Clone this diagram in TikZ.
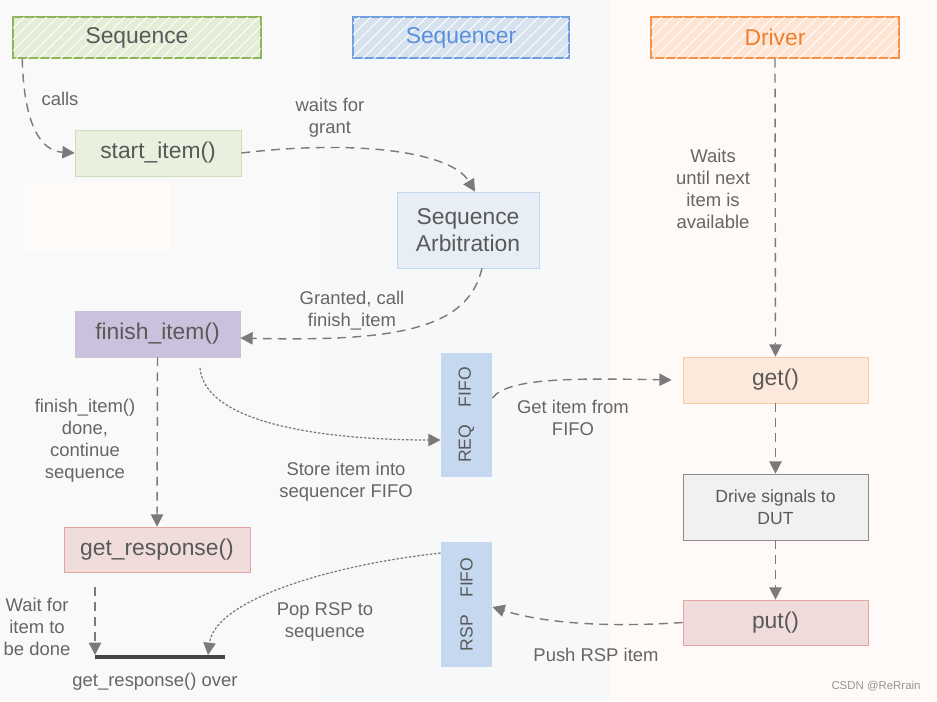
\documentclass[tikz,border=0pt]{standalone}
\usepackage{fontspec}
\setmainfont{Liberation Sans}
\usetikzlibrary{arrows.meta,patterns.meta}

\definecolor{lanegray}{HTML}{F9F9F9}
\definecolor{laneblue}{HTML}{F7F8FA}
\definecolor{laneorange}{HTML}{FFFAF7}
\definecolor{blankpatch}{HTML}{FFFBF8}
\definecolor{boxtext}{HTML}{595959}
\definecolor{lbltext}{HTML}{666666}
\definecolor{arrowgray}{HTML}{7A7A7A}
\definecolor{seqline}{HTML}{8DB55A}
\definecolor{seqfill}{HTML}{E4EDD6}
\definecolor{sqrline}{HTML}{6F9FE0}
\definecolor{sqrfill}{HTML}{D7E2EF}
\definecolor{sqrtext}{HTML}{5A8FDC}
\definecolor{drvline}{HTML}{F39248}
\definecolor{drvfill}{HTML}{FDE4D3}
\definecolor{drvtext}{HTML}{F07F2C}
\definecolor{startfill}{HTML}{E9F0DD}
\definecolor{startline}{HTML}{CDE0B5}
\definecolor{arbfill}{HTML}{E8EEF6}
\definecolor{arbline}{HTML}{C3D6EC}
\definecolor{finishfill}{HTML}{CBC1DD}
\definecolor{respfill}{HTML}{F1DCDC}
\definecolor{respline}{HTML}{E3A5A3}
\definecolor{fifofill}{HTML}{C6D8F0}
\definecolor{getfill}{HTML}{FDE9DC}
\definecolor{getline}{HTML}{F9CBA5}
\definecolor{drivefill}{HTML}{F1F1F1}
\definecolor{driveline}{HTML}{8C8C8C}
\definecolor{bardark}{HTML}{444444}

\tikzset{
  box/.style={draw, inner sep=0pt, align=center, text=boxtext,
    font=\fontsize{13}{15}\selectfont},
  header/.style={box, line width=0.9pt, minimum width=4.96cm, minimum height=0.82cm,
    postaction={pattern={Lines[angle=45,distance=4.5pt,line width=0.5pt]}, pattern color=white}},
  fifo/.style={fill=fifofill, minimum width=1.02cm, minimum height=2.48cm, inner sep=0pt},
  lbl/.style={align=center, text=lbltext, font=\fontsize{10.5}{12.6}\selectfont},
  flow/.style={draw=arrowgray, line width=0.8pt, dash pattern=on 5pt off 3.5pt,
    -{Triangle[length=7pt,width=7pt]}},
  store/.style={draw=arrowgray, line width=0.7pt, dash pattern=on 1.4pt off 1pt,
    -{Triangle[length=7pt,width=7pt]}},
}

\begin{document}
\begin{tikzpicture}[x=0.02cm,y=-0.02cm]
% The lanes
\fill[lanegray] (0,0) rectangle (322,701);
\fill[laneblue] (322,0) rectangle (610,701);
\fill[laneorange] (610,0) rectangle (937,701);
\fill[blankpatch] (24,183) rectangle (170,250);
\useasboundingbox (0,0) rectangle (937,701);

% The lane headers
\node[header, draw=seqline, fill=seqfill] (seqhead) at (137,37.5) {Sequence};
\node[header, draw=sqrline, fill=sqrfill, text=sqrtext, minimum width=4.32cm] (sqrhead) at (461,37.5) {Sequencer};
\node[header, draw=drvline, fill=drvfill, text=drvtext] (drvhead) at (775,37.5) {Driver};

% The steps
\node[box, draw=startline, fill=startfill, minimum width=3.32cm, minimum height=0.92cm] (start) at (158,153) {start\_item()};
\node[box, draw=arbline, fill=arbfill, minimum width=2.84cm, minimum height=1.52cm] (arb) at (468,230) {Sequence\\Arbitration};
\node[box, draw=finishfill, fill=finishfill, minimum width=3.3cm, minimum height=0.92cm] (finish) at (157.5,334) {finish\_item()};
\node[box, draw=respline, fill=respfill, minimum width=3.72cm, minimum height=0.9cm] (getresp) at (157,549.5) {get\_response()};
\node[box, draw=getline, fill=getfill, minimum width=3.7cm, minimum height=0.92cm] (get) at (775.5,380) {get()};
\node[box, draw=driveline, fill=drivefill, minimum width=3.7cm, minimum height=1.32cm,
  font=\fontsize{10}{12.6}\selectfont] (drive) at (775.5,507) {Drive signals to\\DUT};
\node[box, draw=respline, fill=respfill, minimum width=3.7cm, minimum height=0.9cm] (put) at (775.5,622.5) {put()};

% The FIFOs
\node[fifo, label={[rotate=90, text=boxtext, font=\fontsize{10}{12}\selectfont]center:REQ\hspace{10pt}FIFO}] (req) at (466.5,415) {};
\node[fifo, minimum height=2.5cm, label={[rotate=90, text=boxtext, font=\fontsize{10}{12}\selectfont]center:RSP\hspace{10pt}FIFO}] (rsp) at (466.5,604.5) {};

% The end bar
\coordinate (barL) at (95,657);
\coordinate (barR) at (225,657);
\coordinate (waitfrom) at (95,587);
\coordinate (popend) at (208,655);
\coordinate (storefrom) at (200,368);
\draw[bardark, line width=2.3pt] (barL) -- (barR);

% The calls
\draw[flow] ([xshift=0.2cm]seqhead.south west) .. controls (24,128) and (42,151) .. (start.west);
\draw[flow] (start.east) .. controls (350,140) and (450,150) .. ([xshift=0.14cm]arb.north);
\draw[flow] ([xshift=0.28cm]arb.south) .. controls (468,328) and (400,342) .. ([yshift=-0.08cm]finish.east);
\draw[flow] (drvhead.south) -- (get.north);
\draw[flow] (finish.south) -- (getresp.north);
\draw[store] (storefrom) .. controls (205,425) and (330,440) .. ([yshift=-0.5cm]req.west);
\draw[flow] ([yshift=0.34cm]req.east) .. controls (508,378) and (570,378) .. ([xshift=-0.22cm]get.west);
\draw[flow] (get.south) -- (drive.north);
\draw[flow] (drive.south) -- (put.north);
\draw[flow] (put.west) .. controls (600,628) and (540,622) .. ([yshift=-0.05cm]rsp.east);
\draw[store] ([yshift=1.03cm]rsp.west) .. controls (330,565) and (215,600) .. (popend);
\draw[flow] (waitfrom) -- ([yshift=0.04cm]barL);

% The labels
\node[lbl] (callslbl) at (60,99) {calls};
\node[lbl] (grantlbl) at (330,118) {waits for\\grant};
\node[lbl] (grantedlbl) at (352,311) {Granted, call\\finish\_item};
\node[lbl] (waitslbl) at (713,189) {Waits\\until next\\item is\\available};
\node[lbl] (donelbl) at (85,441) {finish\_item()\\done,\\continue\\sequence};
\node[lbl] (storelbl) at (346,482) {Store item into\\sequencer FIFO};
\node[lbl] (getitemlbl) at (573,418) {Get item from\\FIFO};
\node[lbl] (pushlbl) at (596,655) {Push RSP item};
\node[lbl] (poplbl) at (325,622) {Pop RSP to\\sequence};
\node[lbl] (waitlbl) at (37,627) {Wait for\\item to\\be done};
\node[lbl] (overlbl) at (155,682) {get\_response() over};
\node[text=arrowgray!80, font=\fontsize{6.5}{8}\selectfont] (mark) at (876,686) {CSDN @ReRrain};
\end{tikzpicture}
\end{document}
